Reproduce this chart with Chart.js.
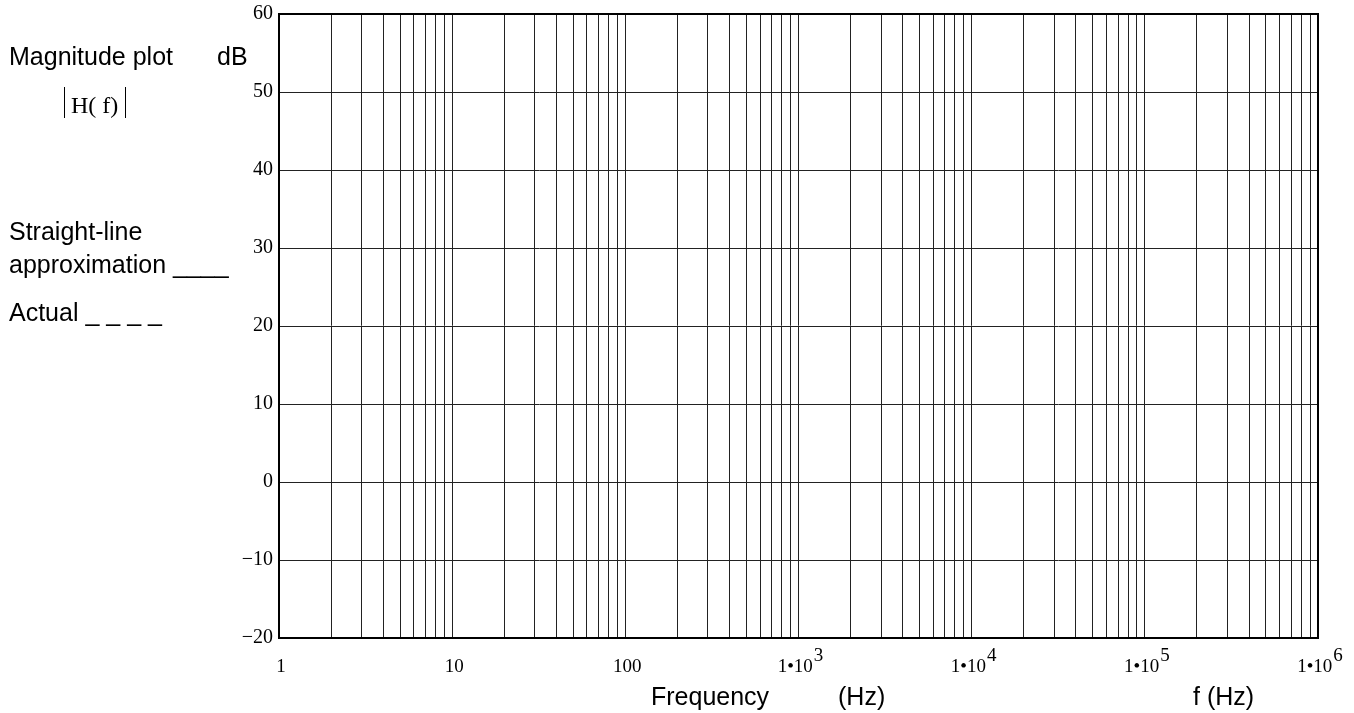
<!DOCTYPE html>
<html>
<head>
<meta charset="utf-8">
<title>Magnitude plot</title>
<script src="https://cdn.jsdelivr.net/npm/chart.js@4.4.1/dist/chart.umd.min.js"></script>
<style>
  html, body { margin: 0; padding: 0; background: #fff; }
  #chartjs { display: block; }
</style>
</head>
<body>
<canvas id="chartjs" width="1354" height="713"></canvas>
<script>
"use strict";

// Frequency grid lines (Hz): 1..9 in every decade, then 1e6
var decades = [1, 10, 100, 1000, 10000, 100000];
var multipliers = [1, 2, 3, 4, 5, 6, 7, 8, 9];
var xGridValues = [];
for (var d = 0; d < decades.length; d++) {
  for (var m = 0; m < multipliers.length; m++) {
    xGridValues.push(multipliers[m] * decades[d]);
  }
}
xGridValues.push(1000000);

// Decade labels: base text and superscript exponent
var xLabelValues = [1, 10, 100, 1000, 10000, 100000, 1000000];
var xLabelBase = ["1", "10", "100", "1\u202210", "1\u202210", "1\u202210", "1\u202210"];
var xLabelExp = ["", "", "", "3", "4", "5", "6"];

// Magnitude axis (dB)
var yMin = -20;
var yMax = 60;
var yStep = 10;

// The worksheet is blank: both curves are left empty
var straightLine = [];
var actual = [];

var serif = "'Liberation Serif', 'Times New Roman', serif";
var sans = "'Liberation Sans', Arial, sans-serif";

// Draws side texts, x labels with superscripts and the frame
var worksheetText = {
  id: "worksheetText",
  afterDraw: function (chart) {
    var ctx = chart.ctx;
    var area = chart.chartArea;
    var xScale = chart.scales.x;
    ctx.save();

    // x tick labels
    ctx.fillStyle = "#000";
    ctx.textBaseline = "alphabetic";
    ctx.textAlign = "left";
    ctx.font = "19px " + serif;
    for (var i = 0; i < xLabelValues.length; i++) {
      var px = xScale.getPixelForValue(xLabelValues[i]);
      var wBase = ctx.measureText(xLabelBase[i]).width;
      var wExp = xLabelExp[i] ? ctx.measureText(xLabelExp[i]).width + 1 : 0;
      var left = px - (wBase + wExp) / 2 + 2;
      ctx.fillText(xLabelBase[i], left, 672);
      if (xLabelExp[i]) {
        ctx.fillText(xLabelExp[i], left + wBase + 1, 661);
      }
    }

    // axis titles
    ctx.font = "25px " + sans;
    ctx.fillText("Frequency", 651, 705);
    ctx.fillText("(Hz)", 838, 705);
    ctx.fillText("f (Hz)", 1193, 705);

    // left-hand notes
    ctx.fillText("Magnitude plot", 9, 65);
    ctx.fillText("dB", 217, 65);
    ctx.fillText("Straight-line", 9, 240);
    ctx.fillText("approximation ____", 9, 273);
    ctx.fillText("Actual _ _ _ _", 9, 321);

    // |H(f)|
    ctx.font = "24px " + serif;
    ctx.fillText("H( f)", 71, 113);
    ctx.strokeStyle = "#000";
    ctx.lineWidth = 1;
    ctx.beginPath();
    ctx.moveTo(64.5, 87);
    ctx.lineTo(64.5, 118);
    ctx.moveTo(125.5, 87);
    ctx.lineTo(125.5, 118);
    ctx.stroke();

    // frame
    ctx.lineWidth = 2;
    ctx.strokeRect(area.left, area.top, area.right - area.left, area.bottom - area.top);
    ctx.restore();
  }
};

var ctx0 = document.getElementById("chartjs");
var myChart = new Chart(ctx0, {
  type: "scatter",
  data: {
    datasets: [
      {
        label: "Straight-line approximation",
        data: straightLine,
        showLine: true,
        borderColor: "#000",
        pointRadius: 0
      },
      {
        label: "Actual",
        data: actual,
        showLine: true,
        borderColor: "#000",
        borderDash: [8, 6],
        pointRadius: 0
      }
    ]
  },
  options: {
    responsive: false,
    animation: false,
    layout: {
      padding: { left: 229, top: 14, right: 36, bottom: 0 }
    },
    plugins: {
      legend: { display: false },
      tooltip: { enabled: false }
    },
    scales: {
      x: {
        type: "logarithmic",
        min: 1,
        max: 1000000,
        afterBuildTicks: function (scale) {
          scale.ticks = xGridValues.map(function (v) {
            return { value: v };
          });
        },
        afterFit: function (scale) {
          scale.height = 75;
          scale.paddingLeft = 0;
          scale.paddingRight = 0;
        },
        ticks: { display: false, autoSkip: false },
        grid: {
          color: "#222",
          lineWidth: 1,
          drawTicks: false
        },
        border: { display: true, color: "#000", width: 2 }
      },
      y: {
        type: "linear",
        min: yMin,
        max: yMax,
        afterFit: function (scale) {
          scale.width = 50;
          scale.paddingTop = 0;
          scale.paddingBottom = 0;
        },
        ticks: {
          stepSize: yStep,
          padding: 6,
          color: "#000",
          font: { family: serif, size: 20 },
          callback: function (value) {
            return String(value).replace("-", "\u2212");
          }
        },
        grid: {
          color: "#222",
          lineWidth: 1,
          drawTicks: false
        },
        border: { display: true, color: "#000", width: 2 }
      }
    }
  },
  plugins: [worksheetText]
});
</script>
</body>
</html>
